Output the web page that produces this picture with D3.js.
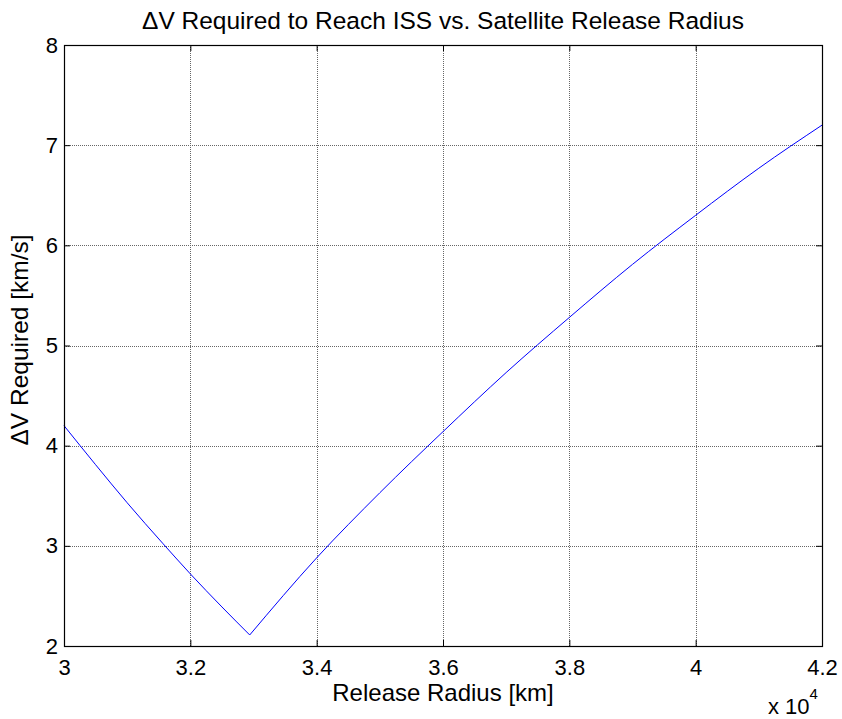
<!DOCTYPE html>
<html>
<head>
<meta charset="utf-8">
<script src="https://cdn.jsdelivr.net/npm/d3@7"></script>
<style>
  body { margin: 0; background: #fff; }
  text { font-family: "Liberation Sans", Arial, sans-serif; fill: #000; }
</style>
</head>
<body>
<div id="chart"></div>
<script>
const width = 842;
const height = 719;
const margin = { top: 45, right: 20, bottom: 73, left: 64 };

// release radius in units of 10^4 km, delta-V in km/s
const releaseRadius = [3.0, 3.05, 3.1, 3.157, 3.2, 3.25, 3.294, 3.4, 3.5, 3.6, 3.7, 3.8, 3.9, 4.0, 4.1, 4.2];
const deltaV =        [4.2, 3.81, 3.43, 3.02, 2.72, 2.39, 2.11, 2.88, 3.53, 4.14, 4.73, 5.28, 5.81, 6.30, 6.77, 7.2];

const xTicks = [3, 3.2, 3.4, 3.6, 3.8, 4, 4.2];
const yTicks = [2, 3, 4, 5, 6, 7, 8];

const title = "\u0394V Required to Reach ISS vs. Satellite Release Radius";
const xLabel = "Release Radius [km]";
const yLabel = "\u0394V Required [km/s]";

const data = releaseRadius.map((r, i) => ({ r, v: deltaV[i] }));
// split at the minimum so each branch can be smoothed without rounding the V
const iMin = d3.minIndex(deltaV);
const branches = [data.slice(0, iMin + 1), data.slice(iMin)];

const iw = width - margin.left - margin.right;
const ih = height - margin.top - margin.bottom;

const x = d3.scaleLinear().domain([3, 4.2]).range([0, iw]);
const y = d3.scaleLinear().domain([2, 8]).range([ih, 0]);

const svg = d3.select("#chart")
  .append("svg")
  .attr("width", width)
  .attr("height", height);

const g = svg.append("g")
  .attr("transform", `translate(${margin.left},${margin.top})`);

// grid
g.append("g")
  .selectAll("line")
  .data(xTicks.slice(1, -1))
  .enter()
  .append("line")
  .attr("x1", d => Math.round(x(d)) + 0.5)
  .attr("x2", d => Math.round(x(d)) + 0.5)
  .attr("y1", 0)
  .attr("y2", ih)
  .attr("stroke", "#666")
  .attr("stroke-width", 1)
  .attr("stroke-dasharray", "1,1");

g.append("g")
  .selectAll("line")
  .data(yTicks.slice(1, -1))
  .enter()
  .append("line")
  .attr("y1", d => Math.round(y(d)) + 0.5)
  .attr("y2", d => Math.round(y(d)) + 0.5)
  .attr("x1", 0)
  .attr("x2", iw)
  .attr("stroke", "#666")
  .attr("stroke-width", 1)
  .attr("stroke-dasharray", "1,1");

// curve
const line = d3.line()
  .x(d => x(d.r))
  .y(d => y(d.v))
  .curve(d3.curveMonotoneX);

g.selectAll(".branch")
  .data(branches)
  .enter()
  .append("path")
  .attr("class", "branch")
  .attr("fill", "none")
  .attr("stroke", "#0000ff")
  .attr("stroke-width", 1)
  .attr("d", line);

// axes: inward ticks on all four sides
const tickLen = 6;
const fmt = d => String(d);

const xAxisB = g.append("g")
  .attr("transform", `translate(0,${ih})`)
  .call(d3.axisBottom(x).tickValues(xTicks).tickFormat(fmt).tickSizeInner(-tickLen).tickSizeOuter(0).tickPadding(13));
const xAxisT = g.append("g")
  .call(d3.axisTop(x).tickValues(xTicks).tickFormat("").tickSizeInner(-tickLen).tickSizeOuter(0));
const yAxisL = g.append("g")
  .call(d3.axisLeft(y).tickValues(yTicks).tickFormat(fmt).tickSizeInner(-tickLen).tickSizeOuter(0).tickPadding(6));
const yAxisR = g.append("g")
  .attr("transform", `translate(${iw},0)`)
  .call(d3.axisRight(y).tickValues(yTicks).tickFormat("").tickSizeInner(-tickLen).tickSizeOuter(0));

[xAxisB, xAxisT, yAxisL, yAxisR].forEach(a => {
  a.select(".domain").remove();
  a.selectAll("line").attr("stroke", "#000");
  a.selectAll("text")
    .style("font-family", '"Liberation Sans", Arial, sans-serif')
    .style("font-size", "22px")
    .attr("fill", "#000");
});

// box
g.append("rect")
  .attr("x", 0.5)
  .attr("y", 0.5)
  .attr("width", iw)
  .attr("height", ih)
  .attr("fill", "none")
  .attr("stroke", "#000")
  .attr("stroke-width", 1.2);

// titles
svg.append("text")
  .attr("x", margin.left + iw / 2)
  .attr("y", 29)
  .attr("text-anchor", "middle")
  .style("font-size", "24.5px")
  .text(title);

svg.append("text")
  .attr("x", margin.left + iw / 2)
  .attr("y", 701)
  .attr("text-anchor", "middle")
  .style("font-size", "24px")
  .text(xLabel);

svg.append("text")
  .attr("transform", `translate(28,340) rotate(-90)`)
  .attr("text-anchor", "middle")
  .style("font-size", "24.5px")
  .text(yLabel);

const mult = svg.append("text")
  .attr("x", 768)
  .attr("y", 714)
  .style("font-size", "22px");
mult.append("tspan").text("x 10");
mult.append("tspan").attr("dy", -15).style("font-size", "15px").text("4");
</script>
</body>
</html>
